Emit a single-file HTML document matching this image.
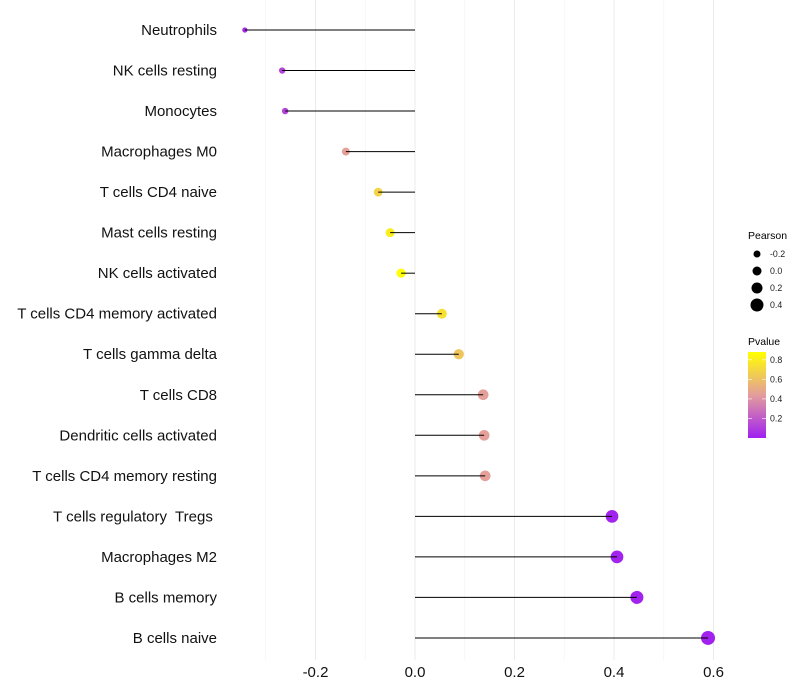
<!DOCTYPE html>
<html><head><meta charset="utf-8"><style>
html,body{margin:0;padding:0;background:#fff;}
svg{display:block;font-family:"Liberation Sans",sans-serif;}
text{white-space:pre;}
</style></head><body>
<svg id="chart" width="800" height="700">
<g id="grid"></g>
<g id="marks"></g>
<g id="ylabels"></g>
<g id="xlabels"></g>
<g id="legend"></g>
</svg>
<script>
const categories = ["Neutrophils","NK cells resting","Monocytes","Macrophages M0","T cells CD4 naive","Mast cells resting","NK cells activated","T cells CD4 memory activated","T cells gamma delta","T cells CD8","Dendritic cells activated","T cells CD4 memory resting","T cells regulatory  Tregs ","Macrophages M2","B cells memory","B cells naive"];
const pearson = [-0.342,-0.267,-0.261,-0.139,-0.074,-0.050,-0.028,0.054,0.088,0.137,0.139,0.141,0.396,0.406,0.446,0.589];
const pvalue = [0.03,0.12,0.12,0.45,0.68,0.80,0.88,0.74,0.62,0.45,0.45,0.45,0.01,0.01,0.01,0.005];
const xTicks = [-0.2,0,0.2,0.4,0.6];
const xTickLabels = ["-0.2","0.0","0.2","0.4","0.6"];
const sizeLegend = [-0.2,0.0,0.2,0.4];
const colorLegend = [0.8,0.6,0.4,0.2];

const NS="http://www.w3.org/2000/svg";
const x = v => 415 + v*497.5;
const y = i => 30 + i*40.53;
const r = v => Math.sqrt(Math.max(2, 16 + (v+0.139)*45.3));
function lerp(a,b,t){return a+(b-a)*t;}
function color(p){
  const stops=[[0,[160,32,240]],[0.45,[229,160,154]],[0.88,[255,255,0]]];
  if(p<=0) return "rgb(160,32,240)";
  for(let k=1;k<stops.length;k++){
    if(p<=stops[k][0]||k==stops.length-1){
      const t=Math.min(1,(p-stops[k-1][0])/(stops[k][0]-stops[k-1][0]));
      const c=stops[k-1][1].map((c0,j)=>Math.round(lerp(c0,stops[k][1][j],t)));
      return `rgb(${c.join(",")})`;
    }
  }
}
function mk(tag,attrs,parent){const e=document.createElementNS(NS,tag);for(const k in attrs)e.setAttribute(k,attrs[k]);parent.appendChild(e);return e;}
const grid=document.getElementById('grid');
for(let v=-0.3;v<=0.65;v+=0.1){
  const major=Math.abs(Math.round(v*10))%2===0;
  const l=mk('line',{x1:x(v),x2:x(v),y1:0,y2:660,stroke:major?'#ebebeb':'#f3f3f3','stroke-width':major?1:0.6},grid);
  
  
}
const marks=document.getElementById('marks');
const yl=document.getElementById('ylabels');
categories.forEach((c,i)=>{
  const cy=y(i),v=pearson[i];
  const pt=mk('circle',{cx:x(v),cy:cy,r:r(v),fill:color(pvalue[i])},marks);
  
  
  const seg=mk('line',{x1:x(0),x2:x(v),y1:cy,y2:cy,stroke:'#000','stroke-width':1},marks);
  
  
  const t=mk('text',{x:217,y:cy+5,'text-anchor':'end','font-size':15,fill:'#111'},yl);
  t.textContent=c;
  
  
});
const xl=document.getElementById('xlabels');
xTicks.forEach((v,i)=>{
  const t=mk('text',{x:x(v),y:677,'text-anchor':'middle','font-size':15,fill:'#111'},xl);
  t.textContent=xTickLabels[i];
  
  
});
const lg=document.getElementById('legend');
let t=mk('text',{x:748,y:239,'font-size':10.5,fill:'#000'},lg);t.textContent='Pearson';


sizeLegend.forEach((v,i)=>{
  const cy=254+i*17;
  const c=mk('circle',{cx:757,cy:cy,r:3.5+i*1,fill:'#000'},lg);
  
  
  const tt=mk('text',{x:770,y:cy+3,'font-size':8.8,fill:'#1a1a1a'},lg);tt.textContent=v.toFixed(1);
  
  
});
t=mk('text',{x:748,y:345,'font-size':10.5,fill:'#000'},lg);t.textContent='Pvalue';


const defs=mk('defs',{},lg);
const gr=mk('linearGradient',{id:'pg',x1:0,y1:1,x2:0,y2:0},defs);
[0,0.25,0.5,0.75,1].forEach(f=>mk('stop',{offset:f,'stop-color':color(f*0.88)},gr));
const bar=mk('rect',{x:748,y:352,width:18,height:86,fill:'url(#pg)'},lg);


colorLegend.forEach(v=>{
  const cy=438-v/0.88*86;
  mk('line',{x1:748,x2:752,y1:cy,y2:cy,stroke:'#fff','stroke-width':0.6},lg);
  mk('line',{x1:762,x2:766,y1:cy,y2:cy,stroke:'#fff','stroke-width':0.6},lg);
  const tt=mk('text',{x:770,y:cy+3,'font-size':8.8,fill:'#1a1a1a'},lg);tt.textContent=v.toFixed(1);
  
  
});
</script>
</body></html>
